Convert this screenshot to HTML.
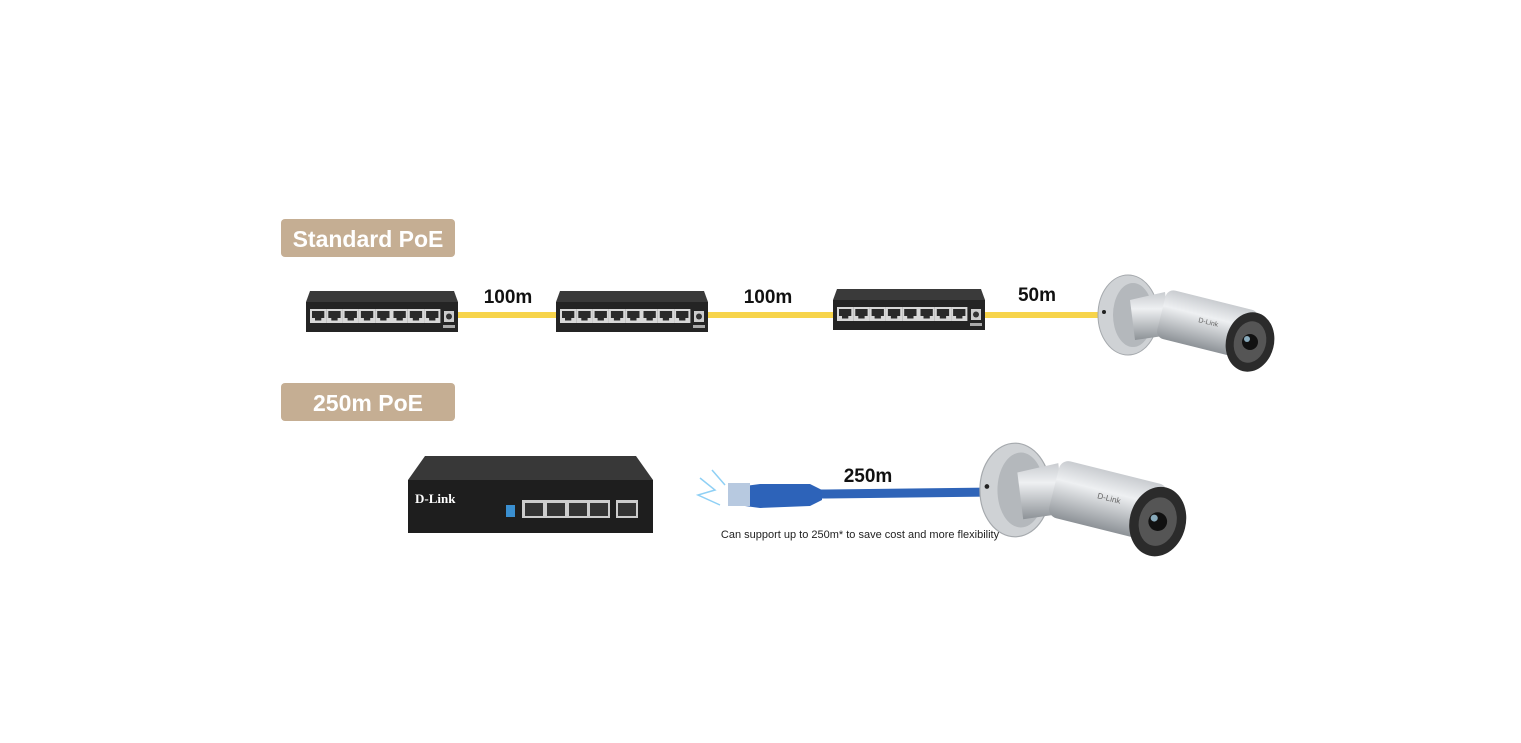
<!DOCTYPE html>
<html><head><meta charset="utf-8"><style>
body{margin:0;background:#fff;}
svg{display:block;font-family:"Liberation Sans",sans-serif;}
</style></head><body>
<svg width="1521" height="743" viewBox="0 0 1521 743" xmlns="http://www.w3.org/2000/svg">
<defs>
<g id="port">
<rect x="0" y="0" width="16.3" height="14" fill="#d8d8d8"/>
<rect x="2" y="2" width="12.3" height="7" fill="#2a2a2a"/>
<rect x="5" y="9" width="6.3" height="2.5" fill="#2a2a2a"/>
</g>
<g id="sw">
<polygon points="4,0 148,0 152,11 0,11" fill="#3a3a3a"/>
<rect x="0" y="11" width="152" height="30" fill="#242424"/>
<use href="#port" x="4" y="18"/><use href="#port" x="20.3" y="18"/><use href="#port" x="36.6" y="18"/><use href="#port" x="52.9" y="18"/>
<use href="#port" x="69.2" y="18"/><use href="#port" x="85.5" y="18"/><use href="#port" x="101.8" y="18"/><use href="#port" x="118.1" y="18"/>
<rect x="138" y="20" width="10" height="11" fill="#ccc"/>
<circle cx="143" cy="25.5" r="3" fill="#333"/>
<rect x="137" y="34" width="12" height="3" fill="#aaa"/>
</g>
<linearGradient id="metal" x1="0" y1="0" x2="0" y2="1">
<stop offset="0" stop-color="#c9ccd0"/><stop offset="0.35" stop-color="#eef0f2"/><stop offset="1" stop-color="#8d9297"/>
</linearGradient>
<g id="cam">
<ellipse cx="1128" cy="315" rx="30" ry="40" fill="#cfd2d5" stroke="#a5a9ad"/>
<ellipse cx="1133" cy="315" rx="20" ry="32" fill="#b4b8bc"/>
<circle cx="1104" cy="312" r="2" fill="#222"/>
<polygon points="1130,300 1165,292 1170,335 1135,340" fill="url(#metal)"/>
<g transform="rotate(14 1210 325)">
<rect x="1160" y="300" width="95" height="50" rx="8" fill="url(#metal)"/>
</g>
<ellipse cx="1250" cy="342" rx="24" ry="30" fill="#2b2b2b" transform="rotate(14 1250 342)"/>
<ellipse cx="1250" cy="342" rx="16" ry="21" fill="#555" transform="rotate(14 1250 342)"/>
<circle cx="1250" cy="342" r="8" fill="#111"/>
<circle cx="1247" cy="339" r="3" fill="#8ab"/>
<text x="1198" y="322" font-size="7" fill="#666" transform="rotate(14 1198 322)">D-Link</text>
</g>
</defs>

<rect x="281" y="219" width="174" height="38" rx="4" fill="#c5ae93"/>
<text x="368" y="247" font-size="23" font-weight="bold" fill="#fff" text-anchor="middle">Standard PoE</text>
<rect x="281" y="383" width="174" height="38" rx="4" fill="#c5ae93"/>
<text x="368" y="411" font-size="23" font-weight="bold" fill="#fff" text-anchor="middle">250m PoE</text>

<rect x="455" y="312" width="650" height="6" fill="#f7d44b"/>
<use href="#sw" x="306" y="291"/>
<use href="#sw" x="556" y="291"/>
<use href="#sw" x="833" y="289"/>
<text x="508" y="303" font-size="19" font-weight="bold" fill="#111" text-anchor="middle">100m</text>
<text x="768" y="303" font-size="19" font-weight="bold" fill="#111" text-anchor="middle">100m</text>
<text x="1037" y="301" font-size="19" font-weight="bold" fill="#111" text-anchor="middle">50m</text>
<use href="#cam"/>

<!-- D-Link switch -->
<polygon points="425,456 636,456 653,480 408,480" fill="#383838"/>
<rect x="408" y="480" width="245" height="53" fill="#1e1e1e"/>
<text x="415" y="503" font-size="13" font-weight="bold" fill="#fff" font-family="Liberation Serif,serif">D-Link</text>
<rect x="506" y="505" width="9" height="12" fill="#3a8fd0"/>
<rect x="522" y="500" width="88" height="18" fill="#ccc"/>
<rect x="525" y="503" width="18" height="13" fill="#333"/><rect x="547" y="503" width="18" height="13" fill="#333"/>
<rect x="569" y="503" width="18" height="13" fill="#333"/><rect x="590" y="503" width="18" height="13" fill="#333"/>
<rect x="616" y="500" width="22" height="18" fill="#ccc"/><rect x="618" y="503" width="18" height="13" fill="#333"/>

<!-- blue cable -->
<path d="M815 494 C860 494 900 493 995 492" stroke="#2f64b8" stroke-width="9" fill="none"/>
<polygon points="745,486 760,484 810,484 822,490 822,500 810,506 760,508 745,506" fill="#2d63b9"/>
<rect x="728" y="483" width="22" height="23" fill="#b7c9e0"/>
<path d="M700 478 L715 490 L698 495 L720 505 M712 470 L725 485" stroke="#8fd0f5" stroke-width="1.5" fill="none"/>
<text x="868" y="482" font-size="19" font-weight="bold" fill="#111" text-anchor="middle">250m</text>
<text x="860" y="538" font-size="11" fill="#222" text-anchor="middle">Can support up to 250m* to save cost and more flexibility</text>

<g transform="translate(1015 490) scale(1.17) translate(-1128 -315)"><use href="#cam"/></g>
</svg>
</body></html>
